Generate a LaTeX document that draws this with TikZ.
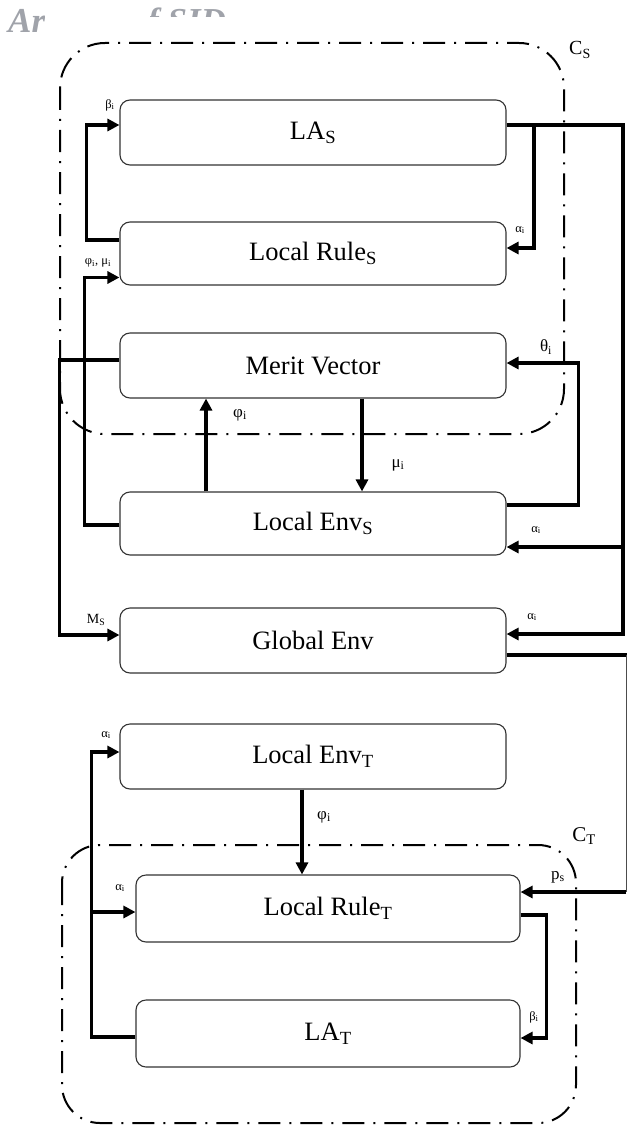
\documentclass[tikz,border=0pt]{standalone}
\usepackage{fontspec}
\setmainfont{Liberation Serif}
\usetikzlibrary{arrows.meta}
\definecolor{wmgray}{RGB}{160,163,170}
\begin{document}
\begin{tikzpicture}[x=1pt,y=-1pt,
  box/.style={draw=black!80, line width=1.1pt, rounded corners=10pt, minimum width=386pt, minimum height=65pt, inner sep=0pt, font=\fontsize{26.5}{30}\selectfont},
  conn/.style={line width=3.5pt, -{Triangle[length=12pt,width=12pt]}},
  thick line/.style={line width=3.5pt},
  lbl/.style={font=\fontsize{17}{20}\selectfont, inner sep=0pt},
  slbl/.style={font=\fontsize{12.5}{14}\selectfont, inner sep=0pt},
  cluster/.style={line width=2pt, dash pattern=on 22pt off 9pt on 2pt off 9pt, rounded corners=45pt},
]
\useasboundingbox (0,0) rectangle (627,1129);

% watermark
\begin{scope}
  \clip (0,0) rectangle (44,45) (150,0) rectangle (262,17);
  \node[anchor=base west, inner sep=0pt, text=wmgray, font=\fontsize{35}{40}\selectfont\bfseries\itshape] (wm) at (8,33) {Archive of SID};
\end{scope}

% clusters
\draw[cluster] (60,43) rectangle (564,434);
\node[font=\fontsize{20}{22}\selectfont, inner sep=0pt] (cs) at (580,50) {C\textsubscript{S}};
\draw[cluster, rounded corners=38pt] (62,845) rectangle (576,1123);
\node[font=\fontsize{21}{23}\selectfont, inner sep=0pt] (ct) at (584,836) {C\textsubscript{T}};

% boxes
\node[box] (las) at (313,132.5) {LA\textsubscript{S}};
\node[box, minimum height=63pt] (lrs) at (313,253.5) {Local Rule\textsubscript{S}};
\node[box] (mv) at (313,365.5) {Merit Vector};
\node[box, minimum height=63pt] (les) at (313,523.5) {Local Env\textsubscript{S}};
\node[box] (ge) at (313,640.5) {Global Env};
\node[box] (let) at (313,756.5) {Local Env\textsubscript{T}};
\node[box, minimum width=384pt, minimum height=67pt] (lrt) at (328,908.5) {Local Rule\textsubscript{T}};
\node[box, minimum width=384pt, minimum height=67pt] (lat) at (328,1033.5) {LA\textsubscript{T}};

% helper coordinates
\coordinate (trunk) at (623,125);
\coordinate (brA) at (534,125);
\coordinate (jx) at (92,0);
\coordinate (geout) at (627,655);
\coordinate (rv1) at (626,655);
\coordinate (rv2) at (626,892);
\coordinate (lesin) at ([yshift=-23.5pt]les.east);
\coordinate (lrtin) at ([yshift=-3.5pt]lrt.west);

% connectors
\draw[conn] ([yshift=7.5pt]las.east) -- (trunk) |- ([yshift=6.5pt]ge.east);
\draw[conn] (brA) |- ([yshift=5.5pt]lrs.east);
\draw[conn] (lesin -| trunk) -- (lesin);
\draw[thick line] ([yshift=-14.5pt]ge.east) -- (geout);
\draw[line width=1pt, black!70] (rv1) -- (rv2);
\draw[conn] (rv2) -- ([yshift=16.5pt]lrt.east);
\draw[conn] ([yshift=13.5pt]lrs.west) -- ++(-33,0) |- ([yshift=7.5pt]las.west);
\draw[conn] ([yshift=-1.5pt]les.west) -- ++(-35,0) |- ([yshift=-24pt]lrs.west);
\draw[conn] ([yshift=5.5pt]mv.west) -- ++(-60,0) |- ([yshift=5.5pt]ge.west);
\draw[conn] ([xshift=49pt]mv.south) -- ([xshift=49pt]les.north);
\draw[conn] ([xshift=-107pt]les.north) -- ([xshift=-107pt]mv.south);
\draw[conn] ([yshift=18.5pt]les.east) -- ++(72,0) |- ([yshift=2.5pt]mv.east);
\draw[conn] ([xshift=-11pt]let.south) -- ([xshift=-11pt]let.south |- lrt.north);
\draw[conn] ([yshift=-3.5pt]lat.west) -- ++(-44,0) |- ([yshift=4.5pt]let.west);
\draw[conn] (lrtin -| jx) -- (lrtin);
\draw[conn] ([yshift=-6.5pt]lrt.east) -- ++(26,0) |- ([yshift=-4.5pt]lat.east);

% labels
\node[slbl] (l1) at (110,105) {β\textsubscript{i}};
\node[slbl] (l2) at (520,230) {α\textsubscript{i}};
\node[slbl] (l3) at (98,263) {φ\textsubscript{i}, μ\textsubscript{i}};
\node[lbl] (l4) at (546,347) {θ\textsubscript{i}};
\node[lbl] (l5) at (240,415) {φ\textsubscript{i}};
\node[lbl] (l6) at (398,465) {μ\textsubscript{i}};
\node[slbl] (l7) at (536,530) {α\textsubscript{i}};
\node[slbl, font=\fontsize{14}{16}\selectfont] (l8) at (96,620) {M\textsubscript{S}};
\node[slbl] (l9) at (532,617) {α\textsubscript{i}};
\node[slbl] (l10) at (106,735) {α\textsubscript{i}};
\node[lbl] (l11) at (324,817) {φ\textsubscript{i}};
\node[slbl] (l12) at (120,888) {α\textsubscript{i}};
\node[lbl] (l13) at (558,877) {p\textsubscript{s}};
\node[slbl] (l14) at (534,1017) {β\textsubscript{i}};
\end{tikzpicture}
\end{document}
